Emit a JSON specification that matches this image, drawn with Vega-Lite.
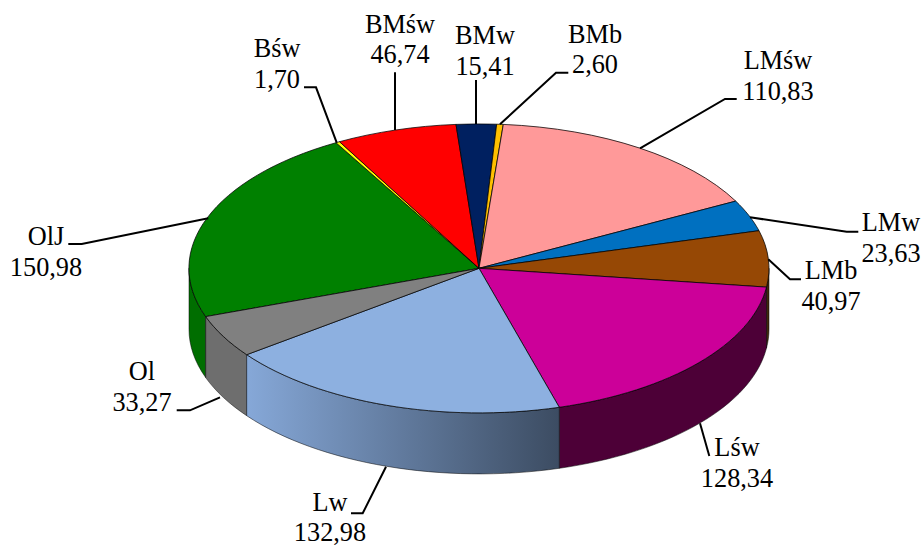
{
"$schema":"https://vega.github.io/schema/vega-lite/v6.json",
"width":922,"height":547,"padding":0,"autosize":{"type":"none"},
"background":"white",
"config":{"view":{"stroke":null},"locale":{"number":{"decimal":",","thousands":" ","grouping":[3],"currency":["","zł"]}}},
"data":{"values":[
{"name":"OlJ","value":150.98,"labelX":46,"labelY":245},
{"name":"Bśw","value":1.70,"labelX":277,"labelY":57.3},
{"name":"BMśw","value":46.74,"labelX":400,"labelY":32.5},
{"name":"BMw","value":15.41,"labelX":485,"labelY":44.3},
{"name":"BMb","value":2.60,"labelX":595,"labelY":42.7},
{"name":"LMśw","value":110.83,"labelX":778,"labelY":69},
{"name":"LMw","value":23.63,"labelX":891,"labelY":231},
{"name":"LMb","value":40.97,"labelX":831,"labelY":279},
{"name":"Lśw","value":128.34,"labelX":737,"labelY":456},
{"name":"Lw","value":132.98,"labelX":330,"labelY":510.5},
{"name":"Ol","value":33.27,"labelX":142,"labelY":380}
]},
"resolve":{"scale":{"shape":"independent","color":"independent"}},
"layer":[
{"transform":[{"filter":{"field":"name","oneOf":["OlJ","Ol","Lśw","LMb"]}}],
"mark":{"type":"point","filled":true,"size":4,"opacity":1,"stroke":"#000000","strokeWidth":0.5},
"encoding":{
"x":{"datum":479,"type":"quantitative","axis":null,"scale":{"domain":[0,922],"range":[0,922],"nice":false,"zero":false}},
"y":{"datum":268.3,"type":"quantitative","axis":null,"scale":{"domain":[0,547],"range":[0,547],"nice":false,"zero":false}},
"shape":{"field":"name","type":"nominal","legend":null,"scale":{"domain":["OlJ","Ol","Lśw","LMb"],"range":[
"M-290,0A290 144.3 0 0 0 -273.3,48.3L-273.3,109.3A290 144.3 0 0 1 -290,61Z",
"M-273.3,48.3A290 144.3 0 0 0 -232.3,86.4L-232.3,147.4A290 144.3 0 0 1 -273.3,109.3Z",
"M80.3,139A290 144.3 0 0 0 287.5,18.8L287.5,79.8A290 144.3 0 0 1 80.3,200Z",
"M287.5,18.8A290 144.3 0 0 0 290,0L290,61A290 144.3 0 0 1 287.5,79.8Z"]}},
"color":{"field":"name","type":"nominal","legend":null,"scale":{"domain":["OlJ","Ol","Lśw","LMb"],"range":["#006e00","#6e6e6e","#4d0037","#40280c"]}}
}},
{"transform":[{"filter":{"field":"name","equal":"Lw"}}],
"mark":{"type":"point","size":4,"opacity":1,"filled":true,"stroke":"#000000","strokeWidth":0.5,
"fill":{"gradient":"linear","x1":0,"y1":0,"x2":1,"y2":0,"stops":[{"offset":0,"color":"#86a8d8"},{"offset":1,"color":"#3c4c62"}]},
"shape":"M-232.3,86.4A290 144.3 0 0 0 80.3,139L80.3,200A290 144.3 0 0 1 -232.3,147.4Z"},
"encoding":{
"x":{"datum":479,"type":"quantitative","axis":null},
"y":{"datum":268.3,"type":"quantitative","axis":null}
}},
{"mark":{"type":"point","filled":true,"size":4,"opacity":1,"stroke":"#000000","strokeWidth":0.75},
"encoding":{
"x":{"datum":479,"type":"quantitative","axis":null},
"y":{"datum":268.3,"type":"quantitative","axis":null},
"shape":{"field":"name","type":"nominal","legend":null,"scale":{"domain":["OlJ","Bśw","BMśw","BMw","BMb","LMśw","LMw","LMb","Lśw","Lw","Ol"],"range":[
"M0,0L-273.3,48.3A290 144.3 0 0 1 -143,-125.6Z",
"M0,0L-143,-125.6A290 144.3 0 0 1 -139.5,-126.6Z",
"M0,0L-139.5,-126.6A290 144.3 0 0 1 -23,-143.9Z",
"M0,0L-23,-143.9A290 144.3 0 0 1 17.7,-144.1Z",
"M0,0L17.7,-144.1A290 144.3 0 0 1 24.3,-143.9Z",
"M0,0L24.3,-143.9A290 144.3 0 0 1 256.7,-67.2Z",
"M0,0L256.7,-67.2A290 144.3 0 0 1 280,-37.6Z",
"M0,0L280,-37.6A290 144.3 0 0 1 287.5,18.8Z",
"M0,0L287.5,18.8A290 144.3 0 0 1 80.3,139Z",
"M0,0L80.3,139A290 144.3 0 0 1 -232.3,86.4Z",
"M0,0L-232.3,86.4A290 144.3 0 0 1 -273.3,48.3Z"]}},
"color":{"field":"name","type":"nominal","legend":null,"scale":{"domain":["OlJ","Bśw","BMśw","BMw","BMb","LMśw","LMw","LMb","Lśw","Lw","Ol"],"range":["#008000","#ffff00","#ff0000","#002060","#ffc000","#ff9999","#0070c0","#964805","#cc0099","#8db0e0","#808080"]}}
}},
{"mark":{"type":"point","filled":false,"size":4,"opacity":1,"stroke":"#000000","strokeWidth":2,"fill":"transparent"},
"encoding":{
"x":{"datum":479,"type":"quantitative","axis":null},
"y":{"datum":268.3,"type":"quantitative","axis":null},
"shape":{"field":"name","type":"nominal","legend":null,"scale":{"domain":["OlJ","Bśw","BMśw","BMw","BMb","LMśw","LMw","LMb","Lśw","Lw","Ol"],"range":[
"M-410.7,-24.3L-397.3,-24.3L-270.7,-50",
"M-175,-181L-163,-181L-142.3,-125.6",
"M-84,-196L-84,-138.3",
"M-3,-188.3L-3,-144.3",
"M89.3,-195.6L77,-195.6L21,-144",
"M257.7,-169.3L246,-169.3L161,-120",
"M379.3,-36.6L367.7,-36.6L271,-51",
"M322,11L311,11L289.3,-9",
"M230.3,187.7L221,155",
"M-128,245L-116.3,245L-93,198.4",
"M-302.3,142L-289,142L-259,129"]}}
}},
{"mark":{"type":"text","font":"Liberation Serif","fontSize":26.3,"align":"center","baseline":"alphabetic","color":"#000000"},
"encoding":{
"x":{"field":"labelX","type":"quantitative","axis":null},
"y":{"field":"labelY","type":"quantitative","axis":null},
"text":{"field":"name","type":"nominal"}
}},
{"mark":{"type":"text","font":"Liberation Serif","fontSize":26.3,"align":"center","baseline":"alphabetic","color":"#000000","dy":30.5},
"encoding":{
"x":{"field":"labelX","type":"quantitative","axis":null},
"y":{"field":"labelY","type":"quantitative","axis":null},
"text":{"field":"value","type":"quantitative","format":".2f"}
}}
]
}
